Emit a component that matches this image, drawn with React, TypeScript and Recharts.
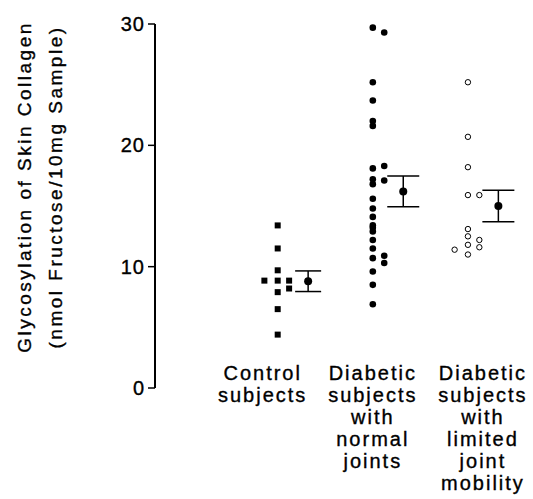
import { ErrorBar, Scatter, ScatterChart, XAxis, YAxis } from 'recharts'

const FONT = '"Liberation Sans", Arial, Helvetica, sans-serif'

// category labels, one entry per line
const CATEGORY_LINES = [
  ['Control', 'subjects'],
  ['Diabetic', 'subjects', 'with', 'normal', 'joints'],
  ['Diabetic', 'subjects', 'with', 'limited', 'joint', 'mobility'],
]
const CATEGORY_X = [1, 2, 3]
const Y_TICKS = [0, 10, 20, 30]

// individual values, split by column within each group
const control_center = [13.4, 11.5, 9.7, 8.85, 7.9, 6.5, 4.4]
const control_left = [8.85]
const control_right = [8.85, 8.2]

const normal_center = [
  29.7, 25.2, 23.7, 22.0, 21.6, 18.1, 17.2, 16.8, 15.6, 14.8,
  14.1, 13.4, 13.2, 12.9, 12.2, 11.5, 10.7, 9.6, 8.5, 6.9,
]
const normal_right = [29.3, 18.3, 17.1, 10.9, 10.3]

const limited_center = [25.2, 20.7, 18.2, 15.9, 13.1, 12.5, 11.8, 11.0]
const limited_right = [15.9, 12.2, 11.6]
const limited_left = [11.4]

// group means with SEM
const means = [8.8, 16.2, 15.0]
const sems = [0.85, 1.27, 1.3]

// horizontal jitter of the columns (in category units)
const OFF = { left: -0.14, center: 0, right: 0.12, mean: 0.32 }
const LABEL_SHIFT = [-15, 0, 15]

const pts = (group: number, off: number, values: number[]) =>
  values.map(v => ({ x: group + off, y: v }))

const controlData = [
  ...pts(1, OFF.center, control_center),
  ...pts(1, OFF.left, control_left),
  ...pts(1, OFF.right, control_right),
]
const normalData = [
  ...pts(2, OFF.center, normal_center),
  ...pts(2, OFF.right, normal_right),
]
const limitedData = [
  ...pts(3, OFF.center, limited_center),
  ...pts(3, OFF.right, limited_right),
  ...pts(3, OFF.left, limited_left),
]
const meanData = means.map((m, i) => [{ x: CATEGORY_X[i] + OFF.mean, y: m, err: sems[i] }])

const Square = (p: any) => <rect x={p.cx - 3} y={p.cy - 3} width={6} height={6} fill="#000" />
const Dot = (p: any) => <circle cx={p.cx} cy={p.cy} r={3.3} fill="#000" />
const Ring = (p: any) => <circle cx={p.cx} cy={p.cy} r={2.7} fill="#fff" stroke="#000" strokeWidth={1} />
const MeanDot = (p: any) => <circle cx={p.cx} cy={p.cy} r={4} fill="#000" />

const textStyle = { fontFamily: FONT, fontSize: 20, letterSpacing: 2 }
const heavy = { fill: '#000', stroke: '#000', strokeWidth: 0.35 }

function CategoryTick(props: any) {
  const { x, y, payload } = props
  const i = CATEGORY_X.indexOf(payload.value)
  if (i < 0) return null
  const cx = x + LABEL_SHIFT[i]
  return (
    <text x={cx} y={y - 8} textAnchor="middle" {...heavy} style={textStyle}>
      {CATEGORY_LINES[i].map((line, k) => (
        <tspan key={k} x={cx} dy={k === 0 ? 0 : 22}>{line}</tspan>
      ))}
    </text>
  )
}

function YLabel() {
  const cy = 187
  const st = { ...textStyle, fontSize: 19, letterSpacing: 2.5 }
  return (
    <g>
      <text x={31} y={cy} textAnchor="middle" {...heavy} style={st}
        transform={`rotate(-90, 31, ${cy})`}>
        Glycosylation of Skin Collagen
      </text>
      <text x={62} y={cy} textAnchor="middle" {...heavy} style={st}
        transform={`rotate(-90, 62, ${cy})`}>
        (nmol Fructose/10mg Sample)
      </text>
    </g>
  )
}

export default function App() {
  return (
    <div style={{ position: 'absolute', left: 0, top: 0, background: '#fff' }}>
      <ScatterChart width={533} height={499} margin={{ top: 24, right: 8, bottom: 0, left: 0 }}>
        <XAxis
          type="number"
          dataKey="x"
          domain={[-0.29, 3.6]}
          ticks={CATEGORY_X}
          interval={0}
          axisLine={false}
          tickLine={false}
          tickSize={0}
          tickMargin={0}
          height={111}
          tick={<CategoryTick />}
          allowDataOverflow
        />
        <YAxis
          type="number"
          dataKey="y"
          domain={[0, 30]}
          ticks={Y_TICKS}
          width={155}
          tickSize={7}
          tickMargin={3}
          axisLine={{ stroke: '#000', strokeWidth: 2 }}
          tickLine={{ stroke: '#000', strokeWidth: 1.5 }}
          tick={{ ...heavy, fontSize: 20, fontFamily: FONT, letterSpacing: 1 }}
          label={<YLabel />}
        />
        <Scatter data={controlData} shape={Square} isAnimationActive={false} />
        <Scatter data={normalData} shape={Dot} isAnimationActive={false} />
        <Scatter data={limitedData} shape={Ring} isAnimationActive={false} />
        {meanData.map((d, i) => (
          <Scatter key={i} data={d} shape={MeanDot} isAnimationActive={false}>
            <ErrorBar dataKey="err" direction="y" width={i === 0 ? 13 : 16} stroke="#000" strokeWidth={1.5} />
          </Scatter>
        ))}
      </ScatterChart>
    </div>
  )
}
